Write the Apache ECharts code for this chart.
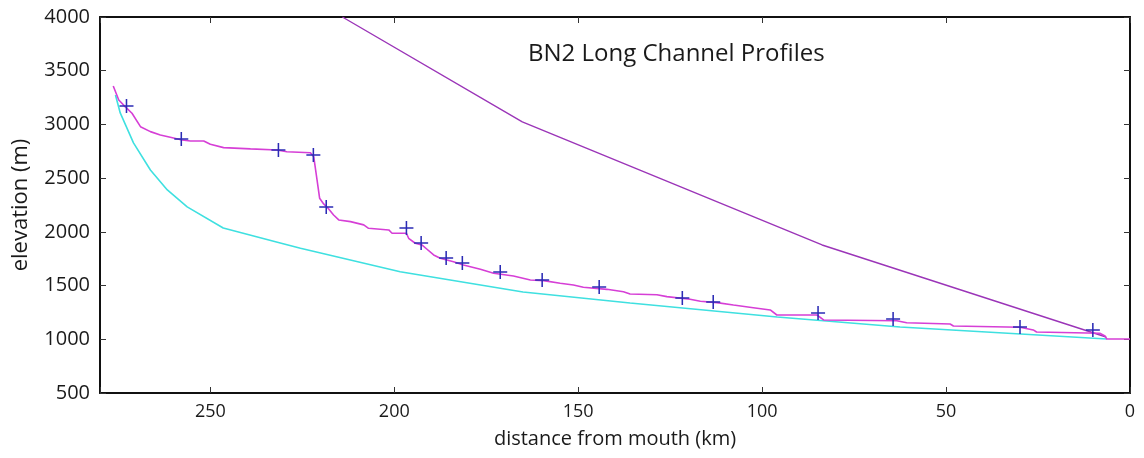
<!DOCTYPE html>
<html>
<head>
<meta charset="utf-8">
<title>BN2 Long Channel Profiles</title>
<script src="https://cdn.jsdelivr.net/npm/echarts@6/dist/echarts.min.js"></script>
<style>
  html, body { margin: 0; padding: 0; background: #fff; }
  #chart { width: 1144px; height: 458px; }
</style>
</head>
<body>
<div id="chart"></div>
<script>
// Axis ticks
const xTicks = [0, 50, 100, 150, 200, 250];
const yTicks = [500, 1000, 1500, 2000, 2500, 3000, 3500, 4000];

// Surveyed channel profile (distance from mouth km, elevation m)
const channelKm = [276.4, 274.9, 273.1, 271.3, 269.0, 266.3, 263.6, 260.9, 257.7, 255.4,
  251.8, 250.0, 246.4, 239.1, 231.9, 229.2, 222.8, 221.9, 221.0, 220.3,
  219.2, 218.0, 216.5, 215.1, 211.9, 208.3, 207.0, 201.5, 200.6, 196.7,
  196.1, 194.3, 192.5, 191.1, 189.3, 187.5, 183.9, 181.2, 176.6, 173.0,
  167.6, 163.0, 159.4, 154.9, 151.3, 148.6, 142.2, 137.7, 135.9, 128.6,
  125.9, 119.6, 116.8, 112.3, 107.8, 102.4, 97.8, 96.0, 85.1, 83.3,
  63.4, 60.7, 48.9, 48.0, 29.9, 26.3, 25.4, 8.2, 6.8, 6.3, 0];
const channelElev = [3358, 3228, 3163, 3104, 2979, 2933, 2902, 2881, 2855, 2846,
  2846, 2815, 2784, 2772, 2762, 2746, 2737, 2700, 2483, 2313,
  2260, 2220, 2157, 2111, 2095, 2065, 2033, 2018, 1987, 1987,
  1940, 1894, 1878, 1838, 1785, 1754, 1722, 1692, 1652, 1614,
  1589, 1552, 1546, 1521, 1505, 1484, 1465, 1443, 1422, 1415,
  1397, 1372, 1354, 1341, 1319, 1294, 1273, 1226, 1226, 1180,
  1173, 1154, 1142, 1124, 1112, 1087, 1068, 1056, 1031, 1003, 1003];

// Knickpoint / sample markers
const markKm = [272.8, 257.9, 231.5, 222.0, 218.5, 196.7, 192.7, 185.9, 181.5,
  171.2, 159.8, 144.3, 121.7, 113.3, 84.8, 64.4, 29.9, 10.1];
const markElev = [3172, 2865, 2762, 2716, 2232, 2036, 1897, 1757, 1710,
  1627, 1552, 1487, 1384, 1347, 1245, 1189, 1114, 1087];

// Lower (concave) profile
const lowerKm = [275.8, 274.5, 270.9, 266.3, 261.7, 256.3, 246.5, 231.0, 225.5,
  198.4, 171.2, 165.0, 135.9, 95.9, 62.5, 6.3];
const lowerElev = [3274, 3107, 2828, 2576, 2390, 2232, 2036, 1897, 1847,
  1629, 1475, 1440, 1338, 1208, 1114, 1003];

// Upper (steep) profile
const upperKm = [214.1, 165.2, 83.7, 6.5];
const upperElev = [4000, 3023, 1878, 1021];

const zip = (a, b) => a.map((v, i) => [v, b[i]]);

const FONT = "'Open Sans', 'Liberation Sans', sans-serif";

const chart = echarts.init(document.getElementById('chart'));

const xBase = {
  type: 'value', min: 0, max: 280, interval: 50, inverse: true,
  splitLine: { show: false },
  axisLine: { show: true, onZero: false, lineStyle: { color: '#111', width: 2 } },
  axisTick: { show: true, inside: true, length: 6, lineStyle: { color: '#333', width: 1 } }
};
const yBase = {
  type: 'value', min: 500, max: 4000, interval: 500,
  splitLine: { show: false },
  axisLine: { show: true, onZero: false, lineStyle: { color: '#111', width: 2 } },
  axisTick: { show: true, inside: true, length: 6, lineStyle: { color: '#333', width: 1 } }
};

chart.setOption({
  animation: false,
  backgroundColor: '#fff',
  title: {
    text: 'BN2 Long Channel Profiles',
    left: 523, top: 37,
    textStyle: { fontFamily: FONT, fontSize: 24, fontWeight: 'normal', color: '#1a1a1a' }
  },
  grid: { left: 100, right: 14, top: 17, bottom: 65 },
  xAxis: [
    Object.assign({}, xBase, {
      position: 'bottom',
      name: 'distance from mouth (km)',
      nameLocation: 'middle', nameGap: 36,
      nameTextStyle: { fontFamily: FONT, fontSize: 20, color: '#1a1a1a' },
      axisLabel: {
        margin: 10, fontFamily: FONT, fontSize: 18, color: '#1a1a1a',
        formatter: v => (xTicks.indexOf(v) >= 0 ? String(v) : '')
      }
    }),
    Object.assign({}, xBase, { position: 'top', axisLabel: { show: false } })
  ],
  yAxis: [
    Object.assign({}, yBase, {
      position: 'left',
      name: 'elevation (m)',
      nameLocation: 'middle', nameGap: 68, nameRotate: 90,
      nameTextStyle: { fontFamily: FONT, fontSize: 22, color: '#1a1a1a' },
      axisLabel: {
        margin: 10, fontFamily: FONT, fontSize: 20, color: '#1a1a1a',
        formatter: v => (yTicks.indexOf(v) >= 0 ? String(v) : '')
      }
    }),
    Object.assign({}, yBase, { position: 'right', axisLabel: { show: false } })
  ],
  series: [
    {
      type: 'line', data: zip(upperKm, upperElev), showSymbol: false,
      lineStyle: { color: '#9b35b8', width: 1.4 }, clip: true, z: 2
    },
    {
      type: 'line', data: zip(lowerKm, lowerElev), showSymbol: false,
      lineStyle: { color: '#3fe0e0', width: 1.6 }, z: 2
    },
    {
      type: 'line', data: zip(channelKm, channelElev), showSymbol: false,
      lineStyle: { color: '#d63fd6', width: 1.6 }, z: 3
    },
    {
      type: 'scatter', data: zip(markKm, markElev),
      symbol: 'path://M0,4.45H10V5.55H0Z M4.45,0H5.55V10H4.45Z',
      symbolSize: 14,
      itemStyle: { color: '#2b2bb5', opacity: 1 }, z: 4
    }
  ]
});
</script>
</body>
</html>
